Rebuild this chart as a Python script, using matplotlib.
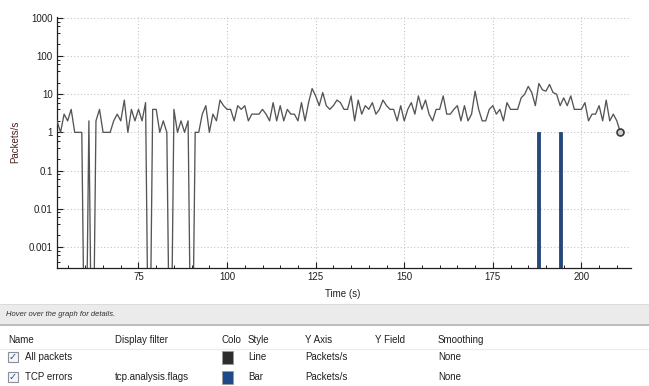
import numpy as np
import matplotlib
matplotlib.use("Agg")
import matplotlib.pyplot as plt
from matplotlib.patches import Rectangle
from matplotlib.ticker import LogLocator, FixedLocator, NullFormatter, FuncFormatter

# ---------------- data ----------------
start_time = 52
all_packets = [
    2, 1, 3, 2, 4, 1, 1, 1, 0, 2, 0, 2, 4, 1, 1, 1, 2, 3, 2, 7,      # 52-71
    1, 4, 2, 4, 2, 6, 0, 4, 4, 1, 2, 1, 0, 4, 1, 2, 1, 2, 0, 1,      # 72-91
    1, 3, 5, 1, 3, 2, 7, 5, 4, 4, 2, 5, 4, 5, 2, 3, 3, 3, 4, 3,      # 92-111
    2, 6, 2, 5, 2, 4, 3, 3, 2, 6, 2, 6, 14, 9, 5, 11, 5, 4, 5, 7,    # 112-131
    6, 4, 4, 9, 2, 7, 3, 5, 4, 6, 3, 4, 7, 5, 4, 4, 2, 5, 2, 4,      # 132-151
    6, 3, 9, 4, 7, 3, 2, 4, 4, 9, 3, 3, 4, 5, 2, 5, 2, 3, 12, 4,     # 152-171
    2, 2, 4, 5, 3, 4, 2, 6, 4, 4, 4, 8, 10, 16, 11, 5, 19, 13, 12, 18,  # 172-191
    11, 10, 5, 8, 5, 9, 4, 4, 4, 6, 2, 3, 3, 5, 2, 7, 2, 3, 2, 1,    # 192-211
]
tcp_error_times = [188, 194]
tcp_error_values = [1, 1]

y_ticks = [0.001, 0.01, 0.1, 1, 10, 100, 1000]
y_tick_labels = ["0.001", "0.01", "0.1", "1", "10", "100", "1000"]
x_ticks = [75, 100, 125, 150, 175, 200]

table_header = ["Name", "Display filter", "Colo", "Style", "Y Axis", "Y Field", "Smoothing"]
table_rows = [
    ["All packets", "", "#2b2d2f", "Line", "Packets/s", "", "None"],
    ["TCP errors", "tcp.analysis.flags", "#1f4a8a", "Bar", "Packets/s", "", "None"],
]

# ---------------- figure ----------------
W, H = 649, 386
fig = plt.figure(figsize=(W / 100, H / 100), dpi=100)
fig.patch.set_facecolor("white")
FONT = "Liberation Sans"

def px_axes(l, t, r, b):
    return [l / W, 1 - b / H, (r - l) / W, (b - t) / H]

ax = fig.add_axes(px_axes(57, 17, 631, 268))

times = np.arange(start_time, start_time + len(all_packets))
vals = np.array(all_packets, dtype=float)
plot_vals = np.where(vals > 0, vals, 1e-8)  # zero drawn off the bottom of the log axis

ax.bar(tcp_error_times, tcp_error_values, width=0.8, bottom=1e-8,
       color="#26477a", edgecolor="#26477a", lw=0.6, zorder=3)
ax.plot(times, plot_vals, color="#555555", lw=0.95, zorder=4)
ax.plot([times[-1]], [plot_vals[-1]], marker="o", ms=5, mfc="#d0d0d0",
        mec="#3a3a3a", mew=1.2, zorder=5, clip_on=False)

ax.set_yscale("log")
ax.set_xlim(52, 214)
ax.set_ylim(2.8e-4, 1050)

ax.yaxis.set_major_locator(FixedLocator(y_ticks))
ax.yaxis.set_major_formatter(FuncFormatter(lambda v, p: y_tick_labels[y_ticks.index(v)] if v in y_ticks else ""))
ax.yaxis.set_minor_locator(LogLocator(base=10, subs=(2, 4, 6, 8)))
ax.yaxis.set_minor_formatter(NullFormatter())
ax.xaxis.set_major_locator(FixedLocator(x_ticks))
ax.xaxis.set_minor_locator(FixedLocator(np.arange(55, 215, 5)))

for s in ["top", "right"]:
    ax.spines[s].set_visible(False)
for s in ["left", "bottom"]:
    ax.spines[s].set_color("#202020")
    ax.spines[s].set_linewidth(0.9)

ax.tick_params(axis="both", which="major", direction="in", length=4, width=0.8,
               color="#202020", labelsize=7, labelcolor="#202020", pad=3)
ax.tick_params(axis="both", which="minor", direction="in", length=2, width=0.7,
               color="#202020")
for lab in ax.get_xticklabels() + ax.get_yticklabels():
    lab.set_fontfamily(FONT)

ax.grid(True, which="major", color="#c4c4c4", lw=0.8, linestyle=(0, (1, 2)))
ax.set_axisbelow(True)

fig.text(15 / W, 1 - 142 / H, "Packets/s", rotation=90, ha="center", va="center",
         fontsize=7, color="#4a2020", family=FONT)
fig.text(343 / W, 1 - 294 / H, "Time (s)", ha="center", va="center",
         fontsize=7, color="#202020", family=FONT)

# ---------------- lower panel ----------------
ov = fig.add_axes([0, 0, 1, 1], zorder=-1)
ov.set_xlim(0, W)
ov.set_ylim(H, 0)
ov.axis("off")

ov.add_patch(Rectangle((0, 304), W, 20, facecolor="#ebebeb", edgecolor="none"))
ov.plot([0, W], [324.5, 324.5], color="#b0b0b0", lw=1.2)
ov.plot([0, W], [304, 304], color="#dcdcdc", lw=0.8)
ov.text(6, 314, "Hover over the graph for details.", fontsize=5.5, style="italic",
        color="#303030", va="center", family=FONT)

col_x = [8, 115, 222, 248, 305, 375, 438]
for cx, txt in zip(col_x, table_header):
    ov.text(cx, 340, txt, fontsize=7, va="center", color="#202020", family=FONT)
ov.plot([0, W], [348.5, 348.5], color="#ececec", lw=0.8)

row_y = [357, 377]
for ry, row in zip(row_y, table_rows):
    name, filt, col, style, yaxis, yfield, smooth = row
    ov.add_patch(Rectangle((8, ry - 5), 10, 10, facecolor="#f4f6fa",
                           edgecolor="#8a8f99", lw=0.8))
    ov.text(13, ry, "\u2713", fontsize=7, ha="center", va="center",
            color="#2a4f9a", family="DejaVu Sans", weight="bold")
    ov.text(25, ry, name, fontsize=7, va="center", color="#202020", family=FONT)
    ov.text(col_x[1], ry, filt, fontsize=7, va="center", color="#202020", family=FONT)
    ov.add_patch(Rectangle((222, ry - 6.5), 11, 13, facecolor=col,
                           edgecolor="#9a9a9a", lw=0.6))
    ov.text(col_x[3], ry, style, fontsize=7, va="center", color="#202020", family=FONT)
    ov.text(col_x[4], ry, yaxis, fontsize=7, va="center", color="#202020", family=FONT)
    ov.text(col_x[5], ry, yfield, fontsize=7, va="center", color="#202020", family=FONT)
    ov.text(col_x[6], ry, smooth, fontsize=7, va="center", color="#202020", family=FONT)

fig.savefig("out.png", dpi=100)
